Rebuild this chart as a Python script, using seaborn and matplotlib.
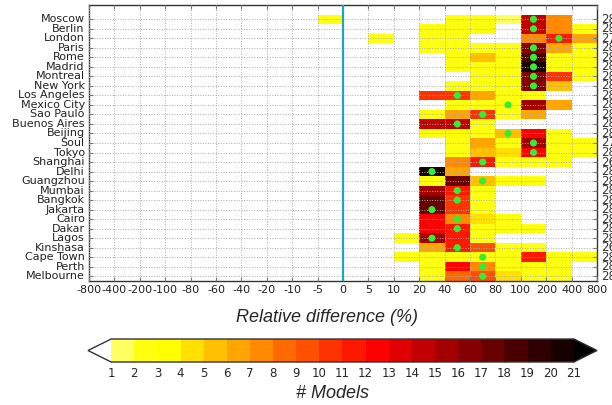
import numpy as np
import pandas as pd
import matplotlib
matplotlib.use('Agg')
import matplotlib.pyplot as plt
import seaborn as sns
from matplotlib.colors import ListedColormap, BoundaryNorm

# Cities (top to bottom)
cities = ['Moscow', 'Berlin', 'London', 'Paris', 'Rome', 'Madrid', 'Montreal',
          'New York', 'Los Angeles', 'Mexico City', 'Sao Paulo', 'Buenos Aires',
          'Beijing', 'Soul', 'Tokyo', 'Shanghai', 'Delhi', 'Guangzhou', 'Mumbai',
          'Bangkok', 'Jakarta', 'Cairo', 'Dakar', 'Lagos', 'Kinshasa', 'Cape Town',
          'Perth', 'Melbourne']

# bin edges of relative difference (%)
edges = ['-800', '-400', '-200', '-100', '-80', '-60', '-40', '-20', '-10', '-5',
         '0', '5', '10', '20', '40', '60', '80', '100', '200', '400', '800']

# number of models per bin (20 bins, -800..800)
counts = [
    [0, 0, 0, 0, 0, 0, 0, 0, 0, 2, 0, 0, 0, 0, 2, 2, 1, 14, 7, 0],    # Moscow
    [0, 0, 0, 0, 0, 0, 0, 0, 0, 0, 0, 0, 0, 2, 2, 2, 0, 14, 7, 2],    # Berlin
    [0, 0, 0, 0, 0, 0, 0, 0, 0, 0, 0, 2, 0, 2, 2, 0, 0, 7, 11, 6],    # London
    [0, 0, 0, 0, 0, 0, 0, 0, 0, 0, 0, 0, 0, 2, 2, 2, 2, 16, 6, 2],    # Paris
    [0, 0, 0, 0, 0, 0, 0, 0, 0, 0, 0, 0, 0, 0, 2, 5, 2, 18, 2, 2],    # Rome
    [0, 0, 0, 0, 0, 0, 0, 0, 0, 0, 0, 0, 0, 0, 2, 2, 2, 20, 2, 2],    # Madrid
    [0, 0, 0, 0, 0, 0, 0, 0, 0, 0, 0, 0, 0, 0, 0, 2, 2, 16, 10, 2],   # Montreal
    [0, 0, 0, 0, 0, 0, 0, 0, 0, 0, 0, 0, 0, 0, 2, 2, 2, 16, 5, 0],    # New York
    [0, 0, 0, 0, 0, 0, 0, 0, 0, 0, 0, 0, 0, 10, 10, 6, 2, 2, 0, 0],   # Los Angeles
    [0, 0, 0, 0, 0, 0, 0, 0, 0, 0, 0, 0, 0, 0, 2, 2, 2, 15, 6, 0],    # Mexico City
    [0, 0, 0, 0, 0, 0, 0, 0, 0, 0, 0, 0, 0, 3, 6, 10, 2, 6, 0, 0],    # Sao Paulo
    [0, 0, 0, 0, 0, 0, 0, 0, 0, 0, 0, 0, 0, 14, 14, 2, 0, 0, 0, 0],   # Buenos Aires
    [0, 0, 0, 0, 0, 0, 0, 0, 0, 0, 0, 0, 0, 2, 3, 2, 5, 12, 2, 0],    # Beijing
    [0, 0, 0, 0, 0, 0, 0, 0, 0, 0, 0, 0, 0, 0, 2, 6, 2, 15, 2, 2],    # Soul
    [0, 0, 0, 0, 0, 0, 0, 0, 0, 0, 0, 0, 0, 0, 2, 5, 4, 12, 2, 2],    # Tokyo
    [0, 0, 0, 0, 0, 0, 0, 0, 0, 0, 0, 0, 0, 0, 7, 11, 2, 2, 2, 0],    # Shanghai
    [0, 0, 0, 0, 0, 0, 0, 0, 0, 0, 0, 0, 0, 20, 6, 0, 0, 0, 0, 0],    # Delhi
    [0, 0, 0, 0, 0, 0, 0, 0, 0, 0, 0, 0, 0, 2, 17, 5, 2, 2, 0, 0],    # Guangzhou
    [0, 0, 0, 0, 0, 0, 0, 0, 0, 0, 0, 0, 0, 15, 11, 2, 0, 0, 0, 0],   # Mumbai
    [0, 0, 0, 0, 0, 0, 0, 0, 0, 0, 0, 0, 0, 17, 10, 2, 0, 0, 0, 0],   # Bangkok
    [0, 0, 0, 0, 0, 0, 0, 0, 0, 0, 0, 0, 0, 17, 10, 2, 0, 0, 0, 0],   # Jakarta
    [0, 0, 0, 0, 0, 0, 0, 0, 0, 0, 0, 0, 0, 12, 7, 4, 2, 0, 0, 0],    # Cairo
    [0, 0, 0, 0, 0, 0, 0, 0, 0, 0, 0, 0, 0, 12, 11, 2, 2, 2, 0, 0],   # Dakar
    [0, 0, 0, 0, 0, 0, 0, 0, 0, 0, 0, 0, 2, 15, 11, 2, 0, 0, 0, 0],   # Lagos
    [0, 0, 0, 0, 0, 0, 0, 0, 0, 0, 0, 0, 0, 6, 11, 9, 2, 2, 0, 0],    # Kinshasa
    [0, 0, 0, 0, 0, 0, 0, 0, 0, 0, 0, 0, 2, 2, 2, 2, 2, 11, 2, 2],    # Cape Town
    [0, 0, 0, 0, 0, 0, 0, 0, 0, 0, 0, 0, 0, 2, 12, 7, 2, 2, 2, 0],    # Perth
    [0, 0, 0, 0, 0, 0, 0, 0, 0, 0, 0, 0, 0, 2, 8, 9, 4, 2, 2, 0],     # Melbourne
]

# bin of the ensemble median (green dot)
median_bin = [17, 17, 18, 17, 17, 17, 17, 17, 14, 16, 15, 14, 16, 17,
              17, 15, 13, 15, 14, 14, 13, 14, 14, 13, 14, 15, 15, 15]

# total number of models per city (right side)
n_models = [28, 28, 27, 28, 28, 28, 28, 28, 28, 28, 28, 28, 28, 27,
            28, 26, 28, 28, 28, 28, 28, 28, 28, 28, 26, 28, 28, 28]

levels = list(range(1, 22))
colors = ['#ffff60', '#ffff10', '#ffff00', '#ffe000', '#ffc000', '#ffa500',
          '#ff8a00', '#ff6a00', '#ff5000', '#ff3300', '#ff1800', '#ff0000',
          '#e00000', '#c20000', '#a30000', '#850000', '#680000', '#4a0000',
          '#2e0000', '#160000']

sns.set_style('white')
plt.rcParams['font.family'] = ['DejaVu Sans']

fig = plt.figure(figsize=(6.12, 4.05), dpi=100)
ax = fig.add_axes([89 / 612, 1 - 281 / 405, 508 / 612, 276 / 405])

dados = pd.DataFrame(counts, index=cities, columns=edges[:-1])
cmap = ListedColormap(colors)
cmap.set_under('white')
cmap.set_over('black')
norm = BoundaryNorm(levels, cmap.N)

sns.heatmap(dados, ax=ax, cmap=cmap, norm=norm, mask=(dados == 0), cbar=False)

ax.set_xlim(0, 20)
ax.set_ylim(len(cities), -1)
ax.set_xticks(np.arange(len(edges)))
ax.set_xticklabels(edges, rotation=0, fontsize=8, color='#222222')
ax.set_yticks(np.arange(len(cities)) + 0.5)
ax.set_yticklabels(cities, rotation=0, fontsize=8, color='#222222')
ax.set_xlabel('')
ax.set_ylabel('')
ax.tick_params(direction='in', length=3, top=True, right=True, bottom=True,
               left=True, color='#777777', pad=3)

for s in ax.spines.values():
    s.set_visible(True)
    s.set_color('#333333')
    s.set_linewidth(1)

ax.grid(True, color='#aaaaaa', ls=':', lw=0.7)
ax.set_axisbelow(False)

ax.axvline(10, color='#1aa8b8', lw=1.6, zorder=4)

sns.scatterplot(x=np.array(median_bin) + 0.5, y=np.arange(len(cities)) + 0.5,
                ax=ax, color='#33ee33', s=26, edgecolor='none', zorder=5, legend=False)

for r, n in enumerate(n_models):
    ax.text(20.15, r + 0.5, str(n), va='center', ha='left', fontsize=8.5,
            color='#333333', clip_on=False)

fig.text(327 / 612, 1 - 318 / 405, 'Relative difference (%)', ha='center',
         va='center', fontsize=13, style='italic', family='Liberation Sans')

# colorbar: extension triangles are drawn inside cax
cax = fig.add_axes([88 / 612, 1 - 362 / 405, 509 / 612, 23 / 405])
cb = fig.colorbar(ax.collections[0], cax=cax, orientation='horizontal',
                  extend='both', ticks=levels)
cb.ax.tick_params(labelsize=8.5, direction='in', length=3, color='#555555')
cb.outline.set_edgecolor('#333333')
cb.outline.set_linewidth(1)

fig.text(333 / 612, 1 - 393 / 405, '# Models', ha='center', va='center',
         fontsize=13, style='italic', family='Liberation Sans')

plt.savefig('out.png', dpi=100)
